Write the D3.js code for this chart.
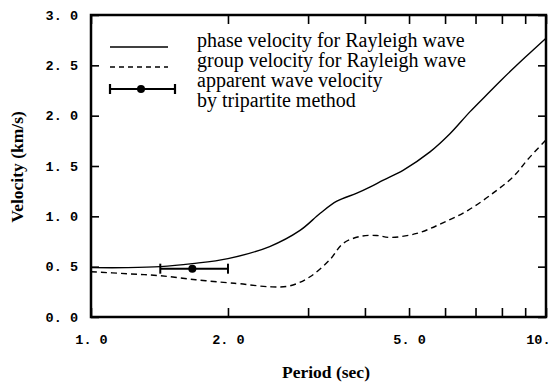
<!DOCTYPE html>
<html lang="en">
  <head>
    <meta charset="UTF-8" />
    <title>Velocity vs Period</title>
    <script src="https://cdn.jsdelivr.net/npm/d3@7/dist/d3.min.js"></script>
    <style>
      body { margin: 0; background: #fff; }
      .serif { font-family: "Liberation Serif", "Times New Roman", Times, "DejaVu Serif", serif; }
    </style>
  </head>
  <body>
    <script>
      // phase velocity (solid)
      const phasePeriod = [1.0, 1.2, 1.42, 1.67, 2.0, 2.47, 2.88, 3.19, 3.47, 3.84, 4.1, 4.39, 4.86, 5.56, 6.15, 6.81, 7.53, 8.0, 9.0, 10.0];
      const phaseVel = [0.49, 0.49, 0.50, 0.53, 0.58, 0.70, 0.86, 1.03, 1.15, 1.23, 1.29, 1.36, 1.46, 1.64, 1.82, 2.04, 2.24, 2.36, 2.58, 2.77];

      // group velocity (dashed)
      const groupPeriod = [1.0, 1.2, 1.42, 1.7, 2.0, 2.13, 2.47, 2.74, 3.03, 3.35, 3.58, 3.9, 4.24, 4.54, 5.2, 5.9, 6.74, 7.7, 8.5, 9.1, 10.0];
      const groupVel = [0.45, 0.43, 0.41, 0.37, 0.34, 0.33, 0.30, 0.31, 0.40, 0.57, 0.73, 0.80, 0.81, 0.79, 0.83, 0.93, 1.06, 1.24, 1.40, 1.56, 1.76];

      // apparent wave velocity by tripartite method
      const obsPeriod = [1.67];
      const obsVel = [0.48];
      const obsLow = [1.42];
      const obsHigh = [2.0];

      const yTicks = [0, 0.5, 1.0, 1.5, 2.0, 2.5, 3.0];
      const yTickLabels = ["0. 0", "0. 5", "1. 0", "1. 5", "2. 0", "2. 5", "3. 0"];
      const xTicks = [1, 2, 3, 4, 5, 6, 7, 8, 9, 10];
      const xLabelTicks = [1, 2, 5, 10];
      const xTickLabels = ["1. 0", "2. 0", "5. 0", "10."];

      const legendLabels = [
        "phase velocity for Rayleigh wave",
        "group velocity for Rayleigh wave",
        "apparent wave velocity",
        "by tripartite method"
      ];

      const width = 551;
      const height = 382;
      const margin = { top: 15, right: 5, bottom: 65, left: 91 };

      const svg = d3
        .select("body")
        .append("svg")
        .attr("width", width)
        .attr("height", height);

      const x = d3
        .scaleLog()
        .domain([1, 10])
        .range([margin.left, width - margin.right]);
      const y = d3
        .scaleLinear()
        .domain([0, 3])
        .range([height - margin.bottom, margin.top]);

      const tickFont = "Liberation Mono, DejaVu Sans Mono, monospace";

      // axes with inward ticks
      const labelFor = (d, vals, labels) => {
        const i = vals.indexOf(d);
        return i < 0 ? "" : labels[i];
      };

      const xAxis = svg
        .append("g")
        .attr("transform", `translate(0,${y(0)})`)
        .call(
          d3.axisBottom(x)
            .tickValues(xTicks)
            .tickSize(-9)
            .tickPadding(17)
            .tickFormat((d) => labelFor(d, xLabelTicks, xTickLabels))
        )
        .call((g) => g.select(".domain").remove());
      // last label sits on the right edge
      xAxis
        .selectAll(".tick text")
        .filter((d) => d === 10)
        .attr("text-anchor", "end")
        .attr("dx", 4);

      svg
        .append("g")
        .attr("transform", `translate(0,${y(3)})`)
        .call(d3.axisTop(x).tickValues(xTicks).tickSize(-9).tickFormat(""))
        .call((g) => g.select(".domain").remove());

      svg
        .append("g")
        .attr("transform", `translate(${x(1)},0)`)
        .call(
          d3.axisLeft(y)
            .tickValues(yTicks)
            .tickSize(-8)
            .tickPadding(13)
            .tickFormat((d) => labelFor(d, yTicks, yTickLabels))
        )
        .call((g) => g.select(".domain").remove());

      svg
        .append("g")
        .attr("transform", `translate(${x(10)},0)`)
        .call(d3.axisRight(y).tickValues(yTicks).tickSize(-8).tickFormat(""))
        .call((g) => g.select(".domain").remove());

      svg
        .selectAll(".tick line")
        .attr("stroke", "#000")
        .attr("stroke-width", 1.6);
      svg
        .selectAll(".tick text")
        .attr("fill", "#000")
        .attr("font-family", tickFont)
        .attr("font-size", 13.5)
        .attr("font-weight", "bold");

      // frame
      svg
        .append("rect")
        .attr("x", x(1))
        .attr("y", y(3))
        .attr("width", x(10) - x(1))
        .attr("height", y(0) - y(3))
        .attr("fill", "none")
        .attr("stroke", "#000")
        .attr("stroke-width", 2.5);

      // curves
      const line = d3
        .line()
        .x((d) => x(d[0]))
        .y((d) => y(d[1]))
        .curve(d3.curveCatmullRom.alpha(0.5));

      svg
        .append("path")
        .datum(d3.zip(phasePeriod, phaseVel))
        .attr("fill", "none")
        .attr("stroke", "#000")
        .attr("stroke-width", 1.4)
        .attr("d", line);

      svg
        .append("path")
        .datum(d3.zip(groupPeriod, groupVel))
        .attr("fill", "none")
        .attr("stroke", "#000")
        .attr("stroke-width", 1.4)
        .attr("stroke-dasharray", "6,4")
        .attr("d", line);

      // observed point with error bar
      const obs = svg.append("g");
      obsPeriod.forEach((p, i) => {
        obs
          .append("line")
          .attr("x1", x(obsLow[i]))
          .attr("x2", x(obsHigh[i]))
          .attr("y1", y(obsVel[i]))
          .attr("y2", y(obsVel[i]))
          .attr("stroke", "#000")
          .attr("stroke-width", 2);
        [obsLow[i], obsHigh[i]].forEach((e) => {
          obs
            .append("line")
            .attr("x1", x(e))
            .attr("x2", x(e))
            .attr("y1", y(obsVel[i]) - 5)
            .attr("y2", y(obsVel[i]) + 5)
            .attr("stroke", "#000")
            .attr("stroke-width", 2);
        });
        obs
          .append("circle")
          .attr("cx", x(p))
          .attr("cy", y(obsVel[i]))
          .attr("r", 4)
          .attr("fill", "#000");
      });

      // legend
      const legend = svg.append("g");
      legend
        .append("line")
        .attr("x1", 110).attr("x2", 168)
        .attr("y1", 47).attr("y2", 47)
        .attr("stroke", "#000").attr("stroke-width", 1.3);
      legend
        .append("line")
        .attr("x1", 110).attr("x2", 168)
        .attr("y1", 67).attr("y2", 67)
        .attr("stroke", "#000").attr("stroke-width", 1.3)
        .attr("stroke-dasharray", "5,4");
      legend
        .append("line")
        .attr("x1", 110).attr("x2", 175)
        .attr("y1", 89).attr("y2", 89)
        .attr("stroke", "#000").attr("stroke-width", 2.2);
      [110, 175].forEach((cx) => {
        legend
          .append("line")
          .attr("x1", cx).attr("x2", cx)
          .attr("y1", 84).attr("y2", 94)
          .attr("stroke", "#000").attr("stroke-width", 2.2);
      });
      legend
        .append("circle")
        .attr("cx", 141).attr("cy", 89).attr("r", 4)
        .attr("fill", "#000");

      legend
        .selectAll("text")
        .data(legendLabels)
        .enter()
        .append("text")
        .attr("class", "serif")
        .attr("x", 197)
        .attr("y", (d, i) => 46.5 + i * 20)
        .attr("font-size", 20)
        .text((d) => d);

      // axis titles
      svg
        .append("text")
        .attr("class", "serif")
        .attr("x", 326)
        .attr("y", 378)
        .attr("text-anchor", "middle")
        .attr("font-size", 17.5)
        .attr("font-weight", "bold")
        .text("Period (sec)");

      svg
        .append("text")
        .attr("class", "serif")
        .attr("transform", "translate(23,167) rotate(-90)")
        .attr("text-anchor", "middle")
        .attr("font-size", 17.5)
        .attr("font-weight", "bold")
        .text("Velocity (km/s)");
    </script>
  </body>
</html>
